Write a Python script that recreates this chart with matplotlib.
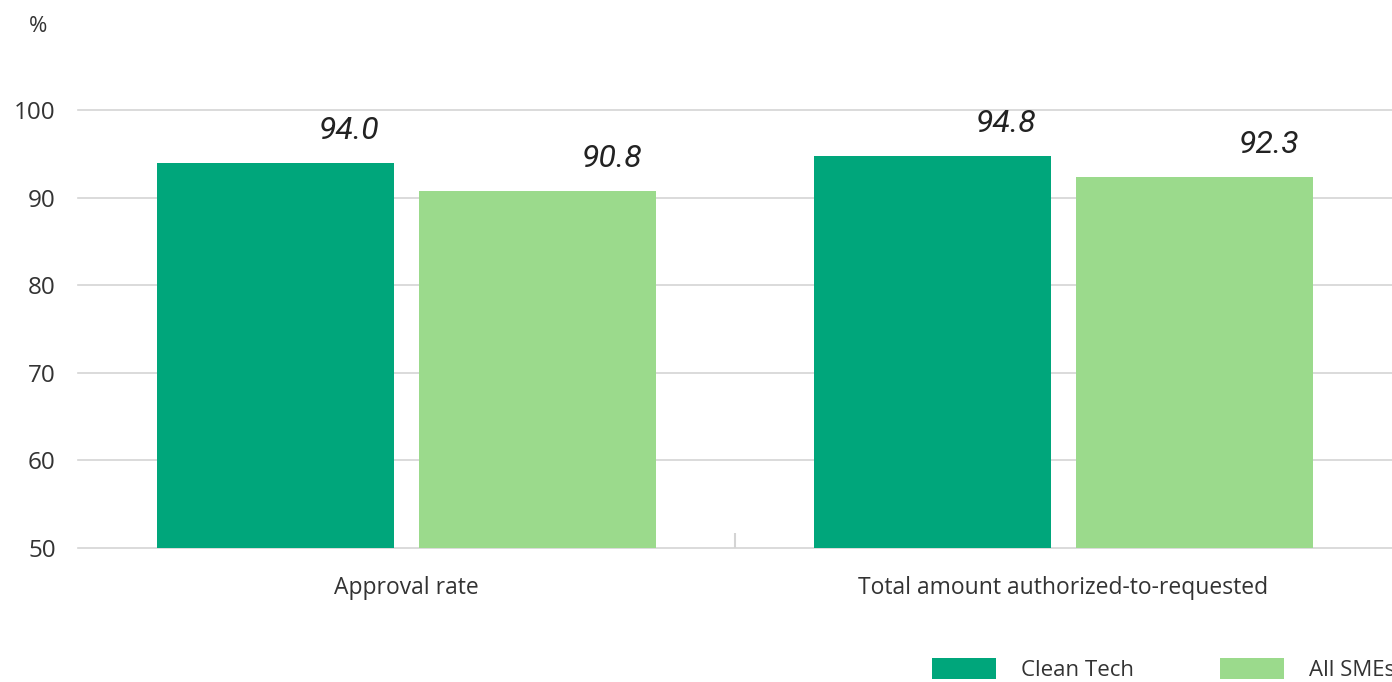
import matplotlib.pyplot as plt
import numpy as np

# data
categories = ["Approval rate", "Total amount authorized-to-requested"]
clean_tech = [94.0, 94.8]
all_smes = [90.8, 92.3]
series_names = ["Clean Tech", "All SMEs"]
colors = ["#00A67B", "#9BDA8C"]

plt.rcParams["font.family"] = ["Open Sans", "DejaVu Sans"]

fig = plt.figure(figsize=(13.92, 6.82), dpi=100)
ax = fig.add_axes([78 / 1392, 1 - 548 / 682, 1 - 78 / 1392, 438 / 682])

x = np.arange(len(categories))
w = 0.361
off = 0.2
b1 = ax.bar(x - off, np.array(clean_tech) - 50, w, bottom=50, color=colors[0],
            label=series_names[0], zorder=3)
b2 = ax.bar(x + off, np.array(all_smes) - 50, w, bottom=50, color=colors[1],
            label=series_names[1], zorder=3)

# value labels, italic, shifted right of bar centre
for bars, vals in [(b1, clean_tech), (b2, all_smes)]:
    for rect, v in zip(bars, vals):
        ax.annotate(f"{v:.1f}", (rect.get_x() + rect.get_width() / 2, v),
                    xytext=(74, 24), textcoords="offset pixels",
                    ha="center", va="baseline", fontsize=23, style="italic",
                    family="Roboto", color="#222222", annotation_clip=False)

ax.set_xlim(-0.5, 1.5)
ax.set_ylim(50, 100)
ax.set_yticks([50, 60, 70, 80, 90, 100])
ax.set_xticks(x)
ax.set_xticklabels(categories, fontsize=16.5)
ax.tick_params(axis="both", length=0, labelcolor="#333333")
ax.tick_params(axis="y", labelsize=17.5, pad=16)
ax.tick_params(axis="x", pad=20)
ax.yaxis.grid(True, color="#d4d4d4", linewidth=1.2, zorder=0)
for s in ax.spines.values():
    s.set_visible(False)
ax.set_axisbelow(True)
for gl in ax.get_ygridlines():
    gl.set_clip_on(False)

# small divider tick between groups
ax.set_xticks([0.5], minor=True)
ax.tick_params(axis="x", which="minor", length=11, width=1.5, color="#d4d4d4",
               direction="in")

fig.text(38 / 1392, 1 - 27 / 682, "%", fontsize=16, color="#333333",
         ha="center", va="center")

fig.legend(loc="lower left", bbox_to_anchor=(912 / 1392, -0.028), ncol=2,
           frameon=False, fontsize=16, handlelength=2.88, handleheight=1.08,
           handletextpad=1.13, columnspacing=3.85, labelcolor="#333333")

fig.savefig("out.png", dpi=100)
